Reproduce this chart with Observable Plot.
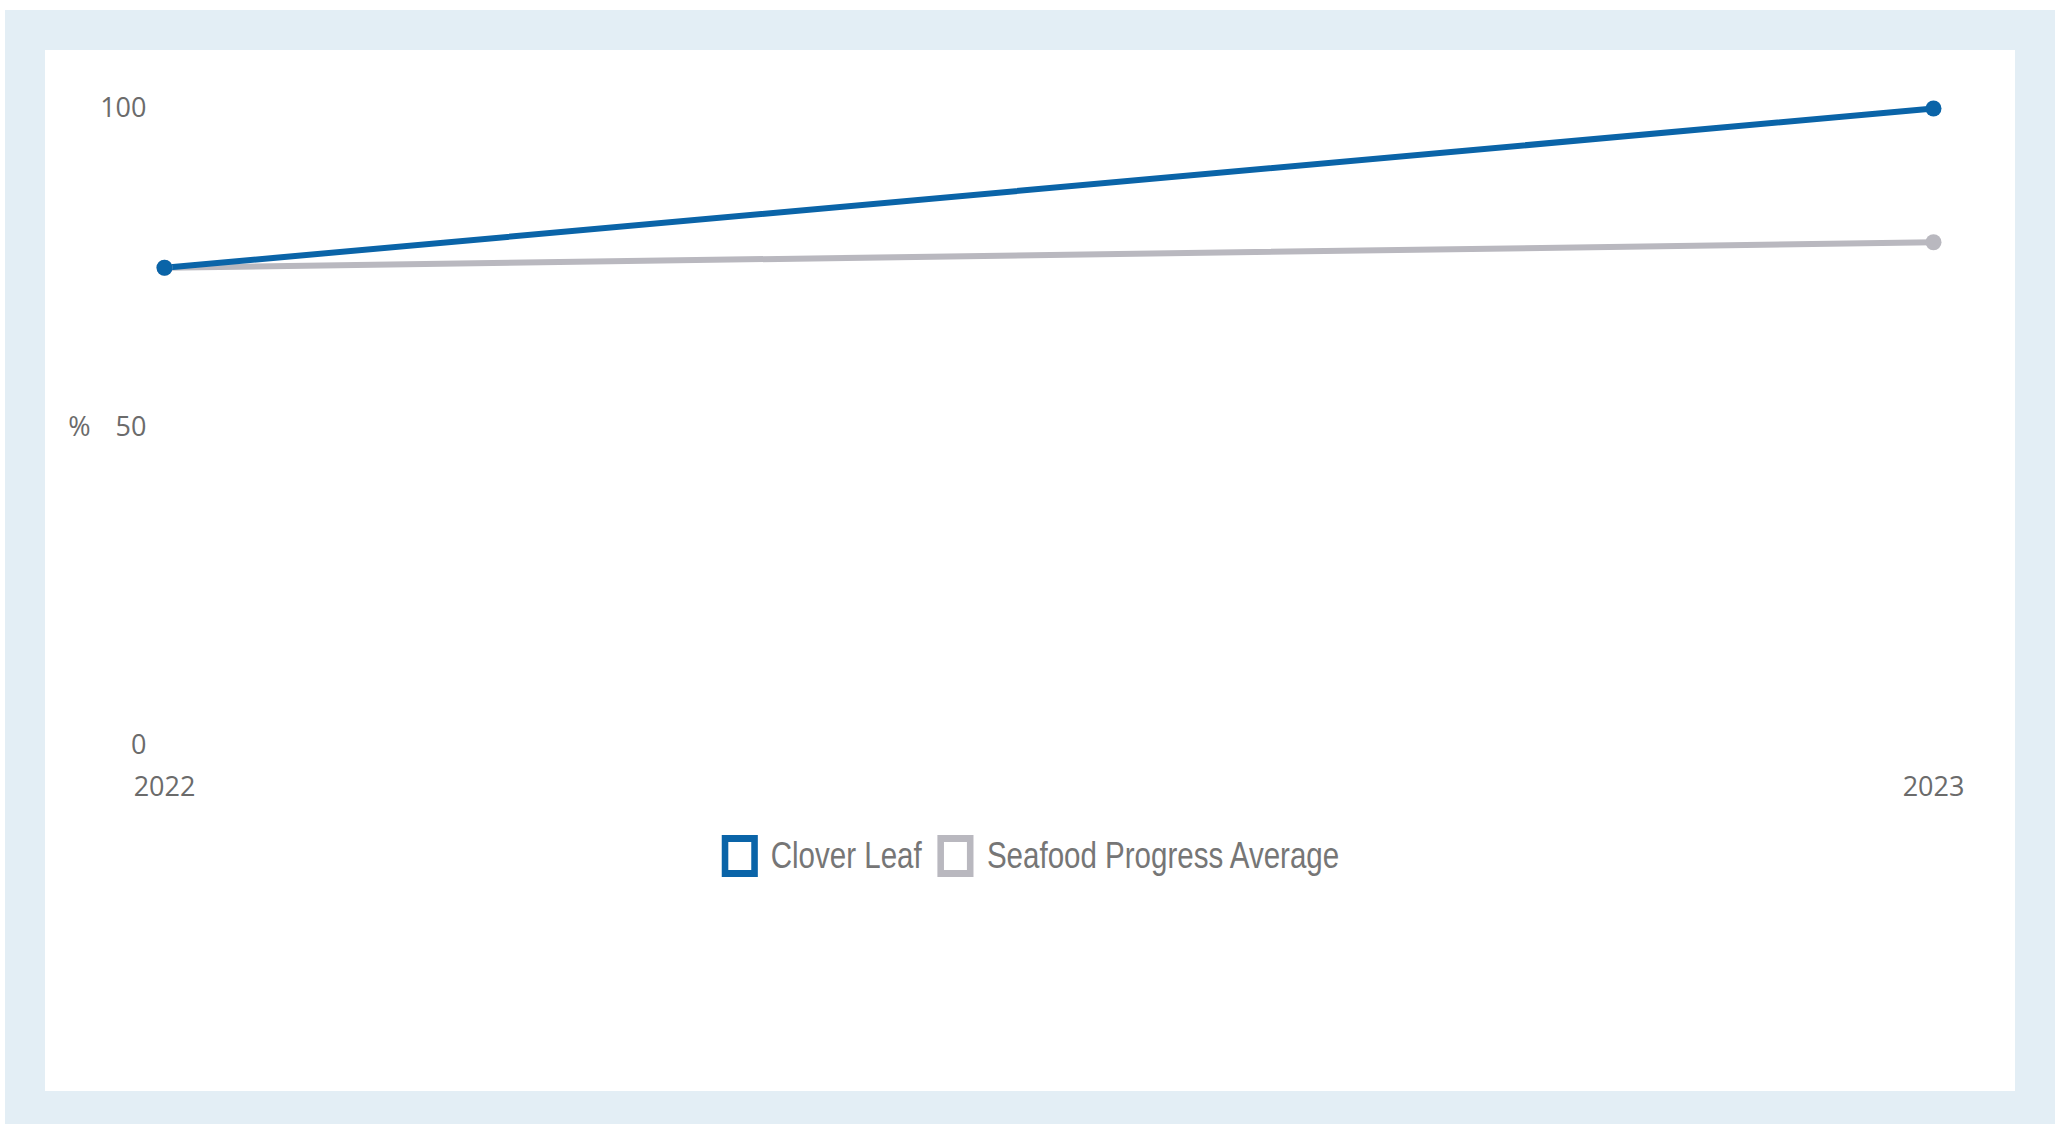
<!DOCTYPE html>
<html>
<head>
<meta charset="utf-8">
<script src="https://cdn.jsdelivr.net/npm/d3@7"></script>
<script src="https://cdn.jsdelivr.net/npm/@observablehq/plot@0.6"></script>
<style>
  html, body { margin: 0; padding: 0; background: #ffffff; }
  body { width: 2069px; height: 1124px; position: relative; overflow: hidden; }
  #frame {
    position: absolute; left: 5px; top: 10px; width: 2050px; height: 1114px;
    background: #e3eef5;
  }
  #panel {
    position: absolute; left: 40px; top: 40px; width: 1970px; height: 1041px;
    background: #ffffff;
  }
  #chart { position: absolute; left: 0; top: 0; }
  #legend {
    position: absolute; left: 0; top: 785px; width: 1970px;
    display: flex; justify-content: center;
  }
  /* narrow lettering: the row is drawn in Liberation Sans and squeezed horizontally */
  #legendRow {
    display: inline-flex; align-items: center;
    transform: scaleX(0.82); transform-origin: center;
    font-family: "Liberation Sans", Arial, sans-serif;
    font-size: 36px; color: #767676; white-space: nowrap;
  }
  .item { display: flex; align-items: center; margin: 0 9.75px; }
  .swatch {
    box-sizing: border-box; width: 44px; height: 42px;
    border-style: solid; border-width: 7px 8.5px; margin-right: 16px; background: #fff;
  }
</style>
</head>
<body>
<div id="frame">
  <div id="panel">
    <div id="chart"></div>
    <div id="legend"><div id="legendRow"></div></div>
  </div>
</div>
<script>
// Share of scores, in percent, by year
const years = [2022, 2023];
const seriesNames = ["Clover Leaf", "Seafood Progress Average"];
const cloverLeaf = [75, 100];
const seafoodAverage = [75, 79];
const seriesColors = ["#0a64a8", "#b9b8bf"];
const yTicks = [0, 50, 100];

const rows = [
  ...years.map((year, i) => ({year, value: seafoodAverage[i], series: seriesNames[1]})),
  ...years.map((year, i) => ({year, value: cloverLeaf[i], series: seriesNames[0]}))
];

const color = {domain: seriesNames, range: seriesColors};

const chart = Plot.plot({
  width: 1970,
  height: 770,
  marginLeft: 119,
  marginRight: 82,
  marginTop: 58,
  marginBottom: 75,
  style: {fontFamily: "'Open Sans', sans-serif", fontSize: "27px", color: "#6b6b6b", background: "transparent"},
  x: {domain: [2022, 2023], ticks: years, tickFormat: "d", tickSize: 0, tickPadding: 31, label: null},
  y: {domain: [0, 100], ticks: yTicks, tickSize: 0, tickPadding: 18, label: null},
  color,
  marks: [
    Plot.line(rows, {x: "year", y: "value", z: "series", stroke: "series", strokeWidth: 6, strokeLinecap: "round"}),
    Plot.dot(rows, {x: "year", y: "value", fill: "series", r: 8}),
    Plot.text(["%"], {frameAnchor: "left", dx: -85, textAnchor: "middle", fill: "#6b6b6b", fontSize: 27})
  ]
});
document.getElementById("chart").appendChild(chart);

// Legend: outlined squares followed by series names
const legend = d3.select("#legendRow");
seriesNames.forEach((name, i) => {
  const item = legend.append("div").attr("class", "item");
  item.append("div").attr("class", "swatch").style("border-color", seriesColors[i]);
  item.append("span").text(name);
});
</script>
</body>
</html>
